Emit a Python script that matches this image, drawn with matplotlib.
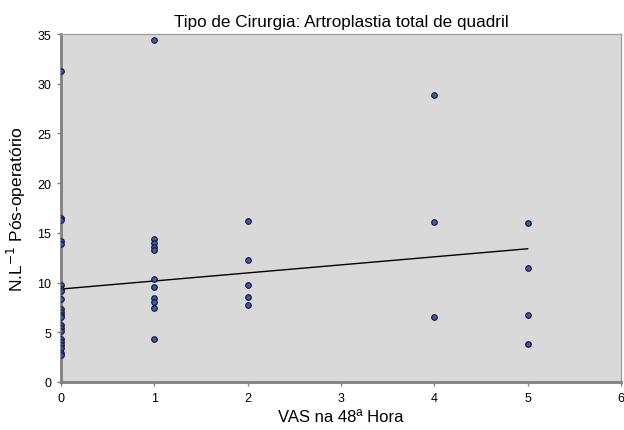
import matplotlib
matplotlib.use("Agg")
import matplotlib.pyplot as plt
import numpy as np

plt.rcParams['font.family'] = ['Liberation Sans', 'DejaVu Sans']

# VAS scores (x) and N.L^-1 values (y)
vas_0 = [31.3, 16.5, 16.3, 14.2, 13.9, 9.8, 9.4, 9.2, 8.3, 7.3, 7.0, 6.7, 6.5,
         5.7, 5.4, 5.1, 4.3, 4.0, 3.7, 3.4, 2.9, 2.7]
vas_1 = [34.4, 14.4, 14.0, 13.6, 13.3, 10.4, 9.6, 8.4, 8.0, 7.4, 4.3]
vas_2 = [16.2, 12.3, 9.8, 8.5, 7.7]
vas_4 = [28.9, 16.1, 6.5]
vas_5 = [16.0, 11.5, 6.7, 3.8]

# trend line as drawn in the chart
trend_intercept = 9.35
trend_slope = 0.81

x = np.array([0] * len(vas_0) + [1] * len(vas_1) + [2] * len(vas_2)
             + [4] * len(vas_4) + [5] * len(vas_5), dtype=float)
y = np.array(vas_0 + vas_1 + vas_2 + vas_4 + vas_5)

fig = plt.figure(figsize=(6.24, 4.31), dpi=100)
ax = fig.add_axes([61 / 624, 1 - 383 / 431, 560 / 624, 348 / 431])
ax.set_facecolor('#d9d9d9')

ax.scatter(x, y, s=16, color='#3b5ba5', edgecolors='#111133', linewidths=0.8, zorder=3)

xt = np.array([x.min(), x.max()])
ax.plot(xt, trend_intercept + trend_slope * xt, color='black', lw=1, zorder=2)

ax.set_xlim(0, 6)
ax.set_ylim(0, 35)
ax.set_xticks(range(0, 7))
ax.set_yticks(range(0, 36, 5))
ax.tick_params(labelsize=9, colors='black', length=3, color='#808080', width=1, pad=4)

for s in ax.spines.values():
    s.set_color('#a0a0a0')
    s.set_linewidth(1)
ax.spines['left'].set_color('#808080')
ax.spines['bottom'].set_color('#808080')
ax.spines['left'].set_linewidth(2)
ax.spines['bottom'].set_linewidth(2)

ax.set_title('Tipo de Cirurgia: Artroplastia total de quadril', fontsize=12.3, pad=6)
ax.set_xlabel('VAS na 48ª Hora', fontsize=12, labelpad=4)
ax.set_ylabel('N.L$^{-1}$ Pós-operatório', fontsize=12.5, labelpad=7)

fig.savefig('out.png', dpi=100)
